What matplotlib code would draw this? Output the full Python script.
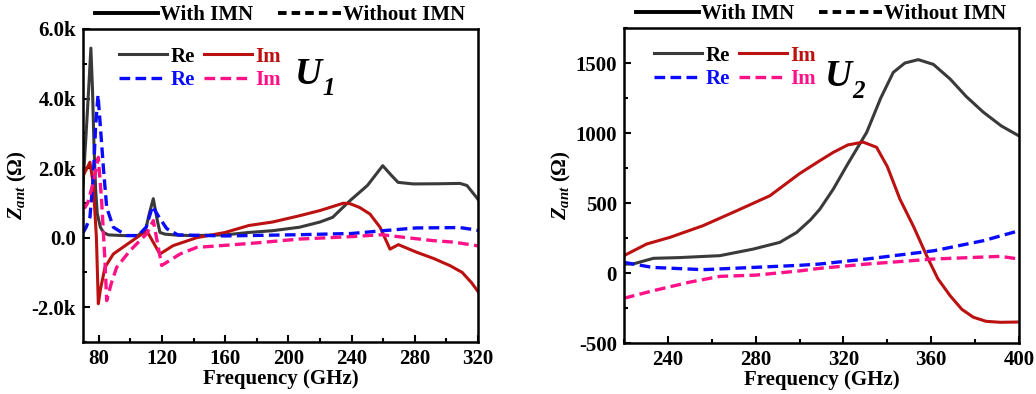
import matplotlib
matplotlib.use('Agg')
import matplotlib.pyplot as plt
from matplotlib.lines import Line2D
from matplotlib.ticker import AutoMinorLocator, FuncFormatter, MultipleLocator

plt.rcParams['font.family'] = ['Liberation Serif', 'DejaVu Serif']
plt.rcParams['font.weight'] = 'bold'
plt.rcParams['mathtext.fontset'] = 'custom'
plt.rcParams['mathtext.it'] = 'Liberation Serif:italic:bold'
plt.rcParams['mathtext.rm'] = 'Liberation Serif:bold'

# ---- U1 panel (70-320 GHz) ----
f_re1 = [70, 72, 73.5, 75, 76, 77, 78, 79, 81, 83, 86, 95, 105, 110, 112, 114.5, 117, 118.7,
         122, 130, 140, 160, 175, 190, 207, 220, 228, 239, 250, 259.7, 265, 269.4, 279, 295,
         308.6, 313, 319, 320]
re1 = [1500, 3000, 4200, 5450, 4300, 2600, 1400, 700, 300, 150, 80, 60, 60, 300, 700, 1120, 500,
       150, 100, 70, 60, 80, 150, 200, 300, 450, 585, 1065, 1500, 2070, 1800, 1590, 1545, 1550,
       1560, 1500, 1160, 1100]

f_im1 = [70, 72, 74.4, 76.5, 78.5, 79.7, 81, 83.9, 89.2, 99.7, 110.3, 118.7, 127, 142, 160, 175,
         190, 207, 220, 234.7, 238.8, 245, 251.6, 258, 264.3, 269.6, 281.2, 292, 302.3, 310, 316, 320]
im1 = [1780, 1950, 2170, 1550, 0, -1900, -1500, -855, -470, -135, 200, -470, -230, 0, 150, 350,
       450, 630, 780, 990, 980, 870, 680, 300, -330, -200, -420, -600, -805, -1000, -1300, -1550]

f_re1n = [70, 72, 74.4, 76.5, 78, 79.5, 81, 82.9, 85, 89.2, 97.6, 105, 110, 114, 118, 123, 130,
          160, 207, 240, 259.9, 281, 308.6, 319, 320]
re1n = [140, 300, 590, 1735, 3200, 4100, 3200, 2020, 870, 300, 60, 60, 300, 900, 600, 260, 80,
        50, 85, 120, 200, 280, 290, 220, 210]

f_im1n = [70, 71.3, 73, 76, 78, 79.7, 81.8, 83.9, 85, 88, 91.3, 99.7, 110.3, 114.5, 119.8, 131.4,
          142, 160, 180, 207, 240, 259, 275, 291.5, 305, 319, 320]
im1n = [900, 870, 1000, 1500, 1900, 2310, 1060, -660, -1810, -1300, -855, -375, 110, 490, -800,
        -470, -280, -220, -150, -40, 30, 85, 0, -85, -130, -230, -230]

# ---- U2 panel (220-400 GHz) ----
f_re2 = [220, 224, 233.4, 245, 263.7, 278.9, 291, 298.7, 305, 309.3, 315.4, 322, 330.6, 337,
         342.7, 348, 354.1, 361, 368.6, 376, 383.8, 392, 399.8, 400]
re2 = [64, 64, 105, 110, 124, 171, 219, 290, 380, 457, 600, 780, 1005, 1250, 1433, 1500, 1524,
       1490, 1386, 1260, 1148, 1050, 981, 980]

f_im2 = [220, 230.3, 241, 256, 271.4, 286.5, 300, 309, 315.4, 322, 329, 335.1, 340, 345.7, 352,
         357.9, 363, 368.6, 374, 379.2, 385, 391.5, 400]
im2 = [124, 207, 255, 338, 445, 552, 710, 800, 862, 915, 935, 898, 760, 529, 330, 124, -40,
       -162, -260, -316, -345, -352, -350]

f_re2n = [220, 233, 256, 279, 300, 309, 330.6, 361.2, 383.8, 400]
re2n = [76, 40, 24, 40, 55, 64, 100, 159, 231, 302]

f_im2n = [220, 233.4, 250, 263.7, 280, 300, 309, 330.6, 361.2, 391.5, 400]
im2n = [-180, -126, -65, -24, -15, 15, 33, 64, 100, 119, 100]

c_re, c_im = '#3a3a3a', '#bb1111'
c_re_n, c_im_n = '#0a0aff', '#ff1188'
dash = (0, (3.2, 1.6))


def k_fmt(v, pos):
    if abs(v) < 1e-9:
        return '0.0'
    return '%.1fk' % (v / 1000)


fig = plt.figure(figsize=(10.36, 3.94), dpi=100)
ax1 = fig.add_axes([0.0801, 0.132, 0.3813, 0.7944])
ax2 = fig.add_axes([0.6023, 0.1294, 0.3813, 0.7995])

panels = [
    (ax1, f_re1, re1, f_im1, im1, f_re1n, re1n, f_im1n, im1n, '1', 0.055, 0.537, 0.855),
    (ax2, f_re2, re2, f_im2, im2, f_re2n, re2n, f_im2n, im2n, '2', 0.04, 0.509, 0.845),
]

for ax, fr, r, fi, i, frn, rn, fin, inn, sub, lx, ux, uy in panels:
    h1, = ax.plot(fr, r, color=c_re, lw=2.2, label='Re')
    h2, = ax.plot(fi, i, color=c_im, lw=2.2, label='Im')
    h3, = ax.plot(frn, rn, color=c_re_n, lw=2.4, ls=dash, label='Re')
    h4, = ax.plot(fin, inn, color=c_im_n, lw=2.4, ls=dash, label='Im')
    leg = ax.legend([h1, h3, h2, h4], ['Re', 'Re', 'Im', 'Im'], ncol=2, frameon=False,
                    loc='upper left', bbox_to_anchor=(lx, 0.99), handlelength=2.3,
                    handletextpad=0.15, columnspacing=0.45, labelspacing=0.18,
                    borderpad=0.2, prop={'size': 15, 'weight': 'bold'})
    for t, col in zip(leg.get_texts(), ['black', c_re_n, c_im, c_im_n]):
        t.set_color(col)
    # panel name: italic U with italic subscript
    ax.text(ux, uy, 'U', transform=ax.transAxes, fontsize=27, style='italic',
            ha='left', va='center')
    ax.text(ux + 0.068, uy - 0.045, sub, transform=ax.transAxes, fontsize=18,
            style='italic', ha='left', va='center')

    top = ax.legend([Line2D([], [], color='black', lw=2.8),
                     Line2D([], [], color='black', lw=2.8, ls=(0, (2.2, 1.3)))],
                    ['With IMN', 'Without IMN'], ncol=2, frameon=False,
                    loc='lower center', bbox_to_anchor=(0.5, 1.005), handlelength=3.0,
                    handletextpad=0.12, columnspacing=1.2, borderaxespad=0, borderpad=0.1,
                    prop={'size': 15, 'weight': 'bold'})
    ax.add_artist(leg)

    ax.set_xlabel('Frequency (GHz)', fontsize=15, fontweight='bold', labelpad=0)
    ax.set_ylabel(r'$Z_{ant}$ ($\Omega$)', fontsize=15, fontweight='bold', labelpad=2)
    ax.tick_params(which='both', direction='in', top=False, right=False, labelsize=15, width=1.5)
    ax.tick_params(which='major', length=5, pad=5)
    ax.tick_params(which='minor', length=3)
    ax.xaxis.set_major_locator(MultipleLocator(40))
    ax.xaxis.set_minor_locator(AutoMinorLocator(2))
    ax.yaxis.set_minor_locator(AutoMinorLocator(2))
    for s in ax.spines.values():
        s.set_linewidth(1.8)

ax1.set_xlim(70, 320)
ax1.set_ylim(-3000, 6000)
ax1.yaxis.set_major_locator(MultipleLocator(2000))
ax1.yaxis.set_major_formatter(FuncFormatter(k_fmt))

ax2.set_xlim(220, 400)
ax2.set_ylim(-500, 1750)
ax2.yaxis.set_major_locator(MultipleLocator(500))
ax2.yaxis.set_major_formatter(FuncFormatter(lambda v, p: '%d' % v))

fig.savefig('out.png', dpi=100)
